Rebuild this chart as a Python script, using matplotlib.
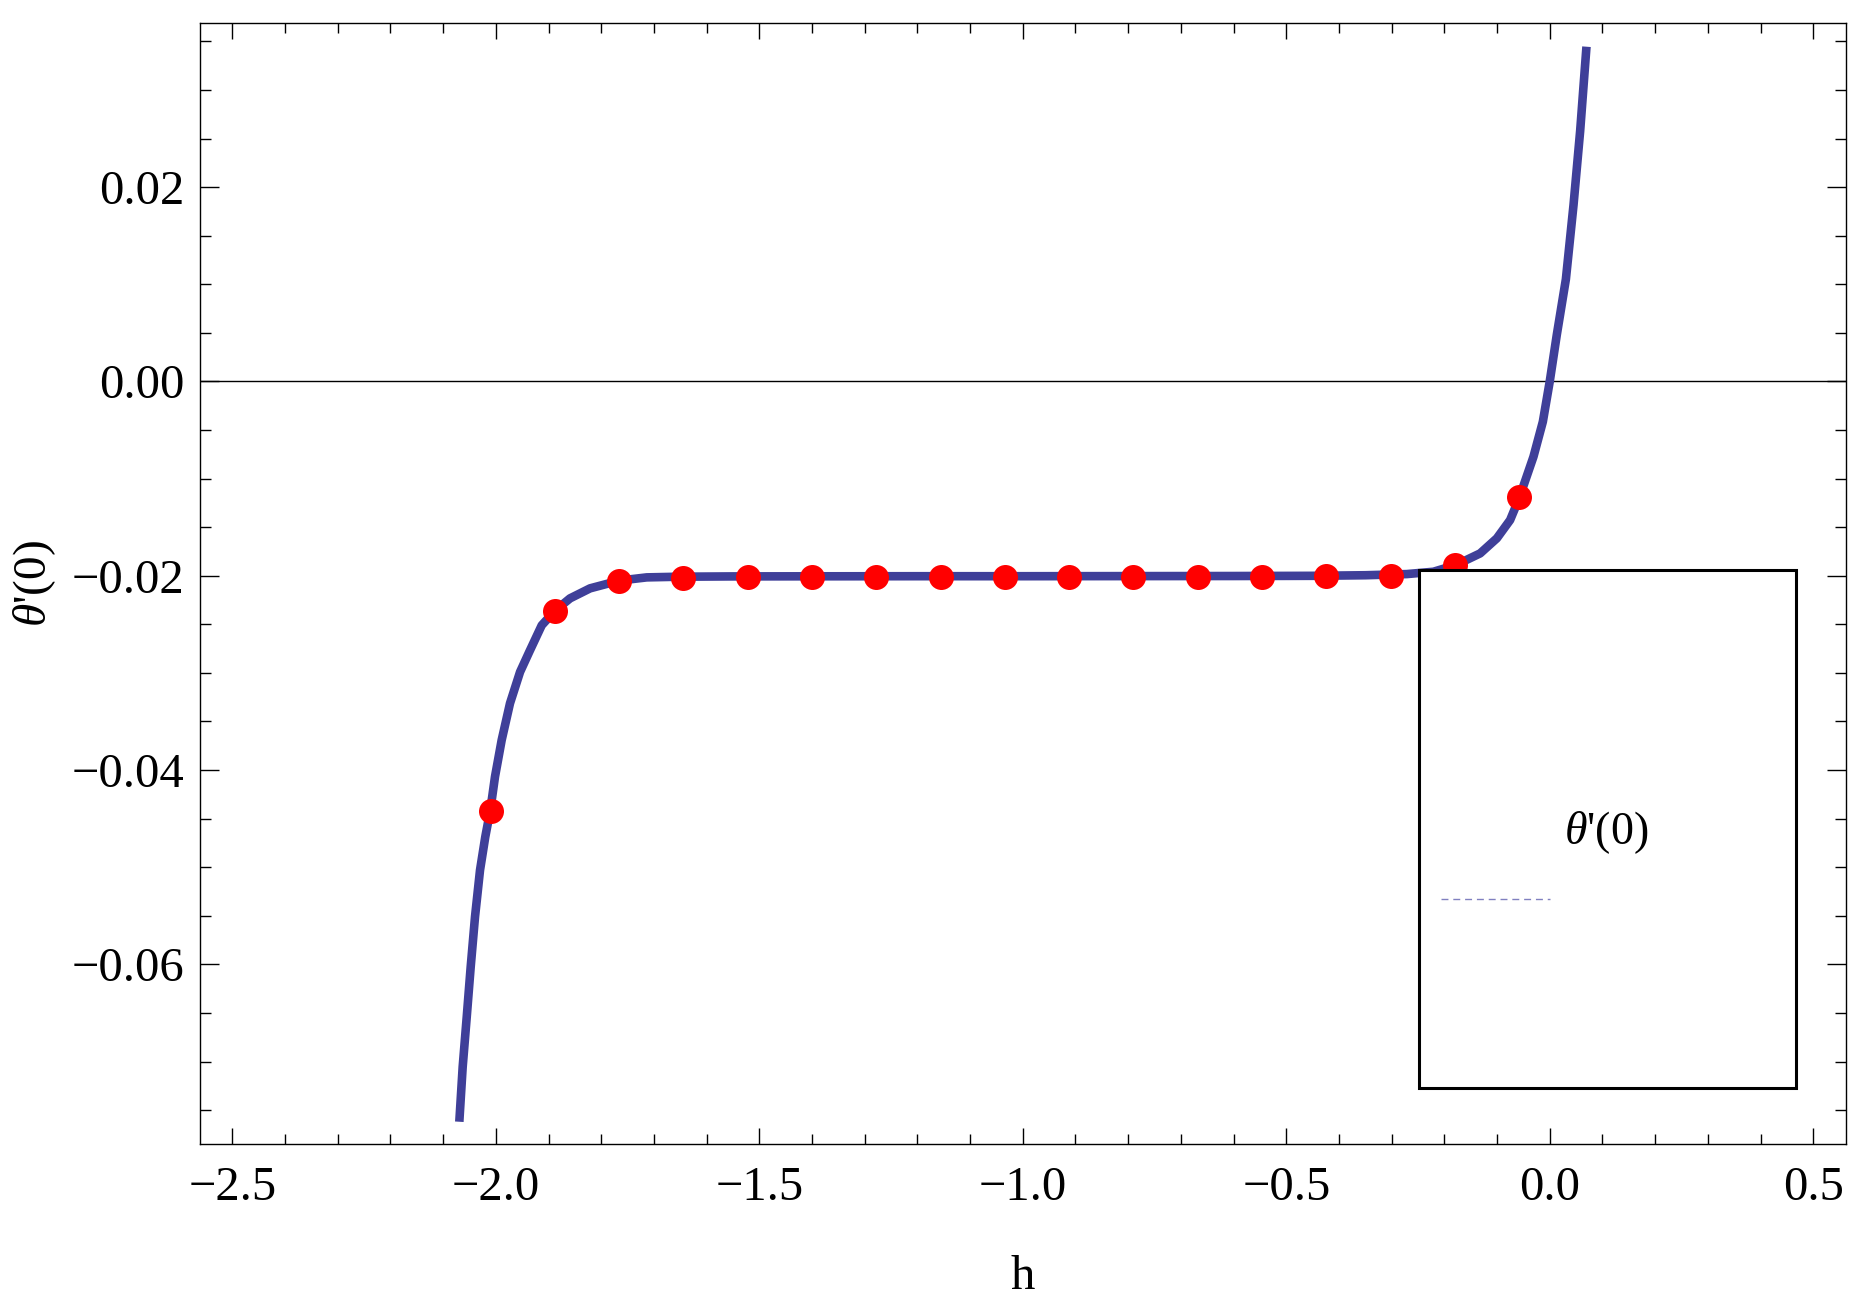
import matplotlib
matplotlib.use("Agg")
import matplotlib.pyplot as plt
from matplotlib.patches import Rectangle
from matplotlib.ticker import MultipleLocator
from matplotlib.lines import Line2D

plt.rcParams['font.family'] = ['Liberation Serif', 'DejaVu Serif']
plt.rcParams['mathtext.fontset'] = 'custom'
plt.rcParams['mathtext.rm'] = 'Liberation Serif'
plt.rcParams['mathtext.it'] = 'Liberation Serif:italic'

# ---- data ----
curve_h = [-2.0693, -2.0629, -2.0552, -2.0477, -2.0395, -2.0300, -2.0200, -2.0104,
           -2.0016, -1.9889, -1.9731, -1.9540, -1.9364, -1.9129, -1.8877, -1.8592,
           -1.8212, -1.7656, -1.7136,
           -1.65, -1.55, -1.40, -1.20, -1.00, -0.80, -0.60, -0.45, -0.35,
           -0.2712, -0.2207, -0.1782, -0.1321, -0.1004, -0.0752, -0.0575,
           -0.0309, -0.0131, 0.0, 0.0134, 0.0306, 0.0451, 0.0577, 0.0697]
curve_theta = [-0.0762, -0.07054, -0.0654, -0.06025, -0.0551, -0.0503, -0.04687, -0.04412,
               -0.04069, -0.03691, -0.03313, -0.02990, -0.02782, -0.0251, -0.0236, -0.02233,
               -0.0213, -0.0205, -0.02017,
               -0.02010, -0.02007, -0.02006, -0.02005, -0.02005, -0.02004, -0.02003, -0.02001, -0.01995,
               -0.01983, -0.01959, -0.0189, -0.0177, -0.01615, -0.01427, -0.01195,
               -0.00775, -0.00415, 0.0, 0.0048, 0.01051, 0.01815, 0.02577, 0.03445]

dots_h = [-2.010, -1.888, -1.766, -1.644, -1.522, -1.400, -1.278, -1.156, -1.034,
          -0.912, -0.790, -0.668, -0.546, -0.424, -0.302, -0.180, -0.058]
dots_theta = [-0.0442, -0.0236, -0.0205, -0.0202, -0.0201, -0.0201, -0.0201, -0.0201, -0.0201,
              -0.0201, -0.0201, -0.0201, -0.0201, -0.0200, -0.0200, -0.0189, -0.0119]

x_ticks = [-2.5, -2.0, -1.5, -1.0, -0.5, 0.0, 0.5]
y_ticks = [-0.06, -0.04, -0.02, 0.00, 0.02]
y_tick_labels = ['\u22120.06', '\u22120.04', '\u22120.02', '0.00', '0.02']
x_tick_labels = ['\u22122.5', '\u22122.0', '\u22121.5', '\u22121.0', '\u22120.5', '0.0', '0.5']

legend_label = r"$\theta$'(0)"
x_label = 'h'
y_label = r"$\theta$'(0)"

# ---- figure ----
W, H = 1869, 1307
fig = plt.figure(figsize=(W / 100, H / 100), dpi=100)
ax = fig.add_axes([200 / W, 1 - 1144 / H, 1646 / W, 1121 / H])

line_color = '#3f3f99'
ax.plot(curve_h, curve_theta, color=line_color, lw=6.2, solid_capstyle='butt',
        solid_joinstyle='round', zorder=2)
ax.plot(dots_h, dots_theta, 'o', color='#ff0000', ms=18, mec='none', zorder=3)
ax.axhline(0, color='black', lw=1.0, zorder=1)

ax.set_xlim(-2.5614, 0.5622)
ax.set_ylim(-0.07849, 0.03689)

ax.set_xticks(x_ticks)
ax.set_xticklabels(x_tick_labels)
ax.set_yticks(y_ticks)
ax.set_yticklabels(y_tick_labels)
ax.xaxis.set_minor_locator(MultipleLocator(0.1))
ax.yaxis.set_minor_locator(MultipleLocator(0.005))

for s in ax.spines.values():
    s.set_linewidth(1.0)

ax.tick_params(axis='both', which='both', direction='in', top=True, right=True, width=1.0)
ax.tick_params(axis='x', which='major', length=11.5, pad=16, labelsize=35)
ax.tick_params(axis='x', which='minor', length=7)
ax.tick_params(axis='y', which='major', length=13.7, pad=11, labelsize=35)
ax.tick_params(axis='y', which='minor', length=8)

ax.set_xlabel(x_label, fontsize=35, labelpad=32)
ax.set_ylabel(y_label, fontsize=34, labelpad=10)

# legend box (Mathematica style)
ax.add_patch(Rectangle((0.7403, 0.0497), 0.9699 - 0.7403, 0.5120 - 0.0497,
                       transform=ax.transAxes, facecolor='white', edgecolor='black',
                       lw=2.2, zorder=4))
ax.add_line(Line2D([0.7538, 0.8202], [0.2186, 0.2186], transform=ax.transAxes,
                   color='#8080c0', lw=1.0, ls=(0, (5, 3.5)), zorder=5))
ax.text(0.854, 0.278, legend_label, transform=ax.transAxes, fontsize=33,
        ha='center', va='center', zorder=5)

fig.savefig('out.png', dpi=100)
